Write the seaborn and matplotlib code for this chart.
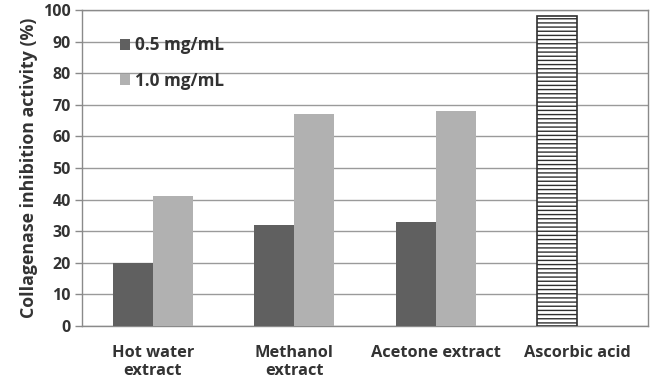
import numpy as np
import pandas as pd
import matplotlib
matplotlib.use("Agg")
import matplotlib.pyplot as plt
import seaborn as sns

categories = ["Hot water\nextract", "Methanol\nextract", "Acetone extract", "Ascorbic acid"]
series_names = ["0.5 mg/mL", "1.0 mg/mL"]
vals_05 = [20, 32, 33, 98]
vals_10 = [41, 67, 68, np.nan]
yticks = list(range(0, 101, 10))

sns.set_theme(style="white")
plt.rcParams["font.family"] = ["Open Sans", "DejaVu Sans"]
plt.rcParams["hatch.color"] = "#404040"
plt.rcParams["hatch.linewidth"] = 1.0

df = pd.DataFrame({
    "category": categories * 2,
    "series": [series_names[0]] * 4 + [series_names[1]] * 4,
    "value": vals_05 + vals_10,
})

fig = plt.figure(figsize=(6.56, 3.87), dpi=100)
ax = fig.add_axes([0.125, 0.158, 0.863, 0.816])

sns.barplot(data=df, x="category", y="value", hue="series", order=categories,
            hue_order=series_names, palette=["#606060", "#b1b1b1"], width=0.565,
            saturation=1, errorbar=None, ax=ax, zorder=3, linewidth=0)

# ascorbic acid bar: hatched white
for p in ax.patches:
    if p.get_height() > 90:
        p.set_facecolor("white")
        p.set_edgecolor("#303030")
        p.set_linewidth(1.2)
        p.set_hatch("----")

ax.set_ylim(0, 100)
ax.set_yticks(yticks)
ax.set_xlim(-0.5, 3.5)
ax.yaxis.grid(True, color="#9a9a9a", linewidth=1.0, zorder=0)
ax.set_axisbelow(True)
for s in ax.spines.values():
    s.set_visible(True)
    s.set_color("#8a8a8a")
    s.set_linewidth(1.0)

ax.tick_params(axis="y", which="both", left=True, length=5, color="#8a8a8a", width=1,
               labelsize=11.5, labelcolor="#333333", pad=3)
ax.tick_params(axis="x", bottom=False, labelsize=11.8, labelcolor="#333333", pad=8)
for lab in ax.get_xticklabels() + ax.get_yticklabels():
    lab.set_fontweight("bold")
for lab in ax.get_xticklabels():
    lab.set_linespacing(1.12)

ax.set_xlabel("")
ax.set_ylabel("Collagenase inhibition activity (%)", fontsize=12.8, fontweight="bold",
              color="#333333", labelpad=4)

handles, labels = ax.get_legend_handles_labels()
leg = ax.legend(handles, labels, loc="upper left", bbox_to_anchor=(0.04, 0.965),
                frameon=False, fontsize=12.3, handlelength=0.6, handleheight=0.6,
                handletextpad=0.3, labelspacing=1.0)
for t in leg.get_texts():
    t.set_fontweight("bold")
    t.set_color("#333333")

fig.savefig("out.png", dpi=100)
